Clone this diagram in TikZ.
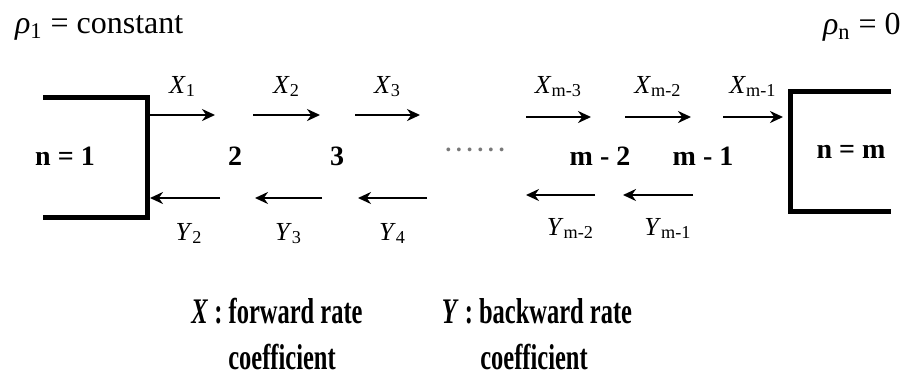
\documentclass[tikz,border=0pt]{standalone}
\usepackage{fontspec}
\setmainfont{Liberation Serif}
\usepackage{graphicx}
\usepackage{tikz}
\usetikzlibrary{arrows.meta}
\definecolor{dotgray}{RGB}{120,120,120}
\newcommand{\narrowtext}[1]{\scalebox{0.68}[1]{#1}}

\begin{document}
\begin{tikzpicture}[x=0.5pt, y=-0.5pt, wall/.style={line width=2.5pt}, rate/.style={-{Stealth[length=6.5pt,width=6pt]}, line width=1.4pt}, ratelabel/.style={font=\fontsize{13}{15}\selectfont, anchor=base}, cell/.style={font=\fontsize{14}{16}\selectfont\bfseries, anchor=base}, bound/.style={font=\fontsize{16}{19}\selectfont, anchor=base west}, legend/.style={font=\fontsize{18}{20}\selectfont\bfseries, anchor=base}]
\useasboundingbox (0,0) rectangle (913,376);
\node[bound] (rho1) at (8,33) {\textit{ρ}\textsubscript{1} = constant};
\node[bound] (rhon) at (816,34) {\textit{ρ}\textsubscript{n} = 0};
\draw[wall] (43,97) -| (147,217) -- (43,217);
\draw[wall] (891,91) -| (790,211) -- (891,211);
\node[cell] (n1) at (65,165) {n = 1};
\node[cell] (c2) at (235,165) {2};
\node[cell] (c3) at (337,165) {3};
\node[font=\fontsize{16}{19}\selectfont, text=dotgray] (gap) at (475,154) {······};
\node[cell] (cm2) at (600,165) {m - 2};
\node[cell] (cm1) at (703,165) {m - 1};
\node[cell] (nm) at (851,158) {n = m};
\coordinate (xa1) at (150,115);
\coordinate (xb1) at (215,115);
\coordinate (xa2) at (253,115);
\coordinate (xb2) at (320,115);
\coordinate (xa3) at (355,115);
\coordinate (xb3) at (420,115);
\coordinate (xa4) at (526,117);
\coordinate (xb4) at (591,117);
\coordinate (xa5) at (625,117);
\coordinate (xb5) at (691,117);
\coordinate (xa6) at (723,117);
\coordinate (xb6) at (783,117);
\draw[rate] (xa1) -- node[ratelabel, yshift=11pt] {\textit{X}\textsubscript{1}} (xb1);
\draw[rate] (xa2) -- node[ratelabel, yshift=11pt] {\textit{X}\textsubscript{2}} (xb2);
\draw[rate] (xa3) -- node[ratelabel, yshift=11pt] {\textit{X}\textsubscript{3}} (xb3);
\draw[rate] (xa4) -- node[ratelabel, yshift=12pt] {\textit{X}\textsubscript{m-3}} (xb4);
\draw[rate] (xa5) -- node[ratelabel, yshift=12pt] {\textit{X}\textsubscript{m-2}} (xb5);
\draw[rate] (xa6) -- node[ratelabel, yshift=12pt] {\textit{X}\textsubscript{m-1}} (xb6);
\coordinate (ya1) at (220,198);
\coordinate (yb1) at (150,198);
\coordinate (ya2) at (322,198);
\coordinate (yb2) at (255,198);
\coordinate (ya3) at (427,198);
\coordinate (yb3) at (358,198);
\coordinate (ya4) at (595,195);
\coordinate (yb4) at (526,195);
\coordinate (ya5) at (693,195);
\coordinate (yb5) at (623,195);
\draw[rate] (ya1) -- node[ratelabel, yshift=-21pt, xshift=2pt] {\textit{Y}\textsubscript{2}} (yb1);
\draw[rate] (ya2) -- node[ratelabel, yshift=-21pt] {\textit{Y}\textsubscript{3}} (yb2);
\draw[rate] (ya3) -- node[ratelabel, yshift=-21pt] {\textit{Y}\textsubscript{4}} (yb3);
\draw[rate] (ya4) -- node[ratelabel, yshift=-20pt, xshift=5pt] {\textit{Y}\textsubscript{m-2}} (yb4);
\draw[rate] (ya5) -- node[ratelabel, yshift=-20pt, xshift=5pt] {\textit{Y}\textsubscript{m-1}} (yb5);
\node[legend] (fwdA) at (277,323) {\narrowtext{\textit{X} : forward rate}};
\node[legend] (fwdB) at (282,369) {\narrowtext{coefficient}};
\node[legend] (bwdA) at (537,323) {\narrowtext{\textit{Y} : backward rate}};
\node[legend] (bwdB) at (534,369) {\narrowtext{coefficient}};
\end{tikzpicture}
\end{document}
